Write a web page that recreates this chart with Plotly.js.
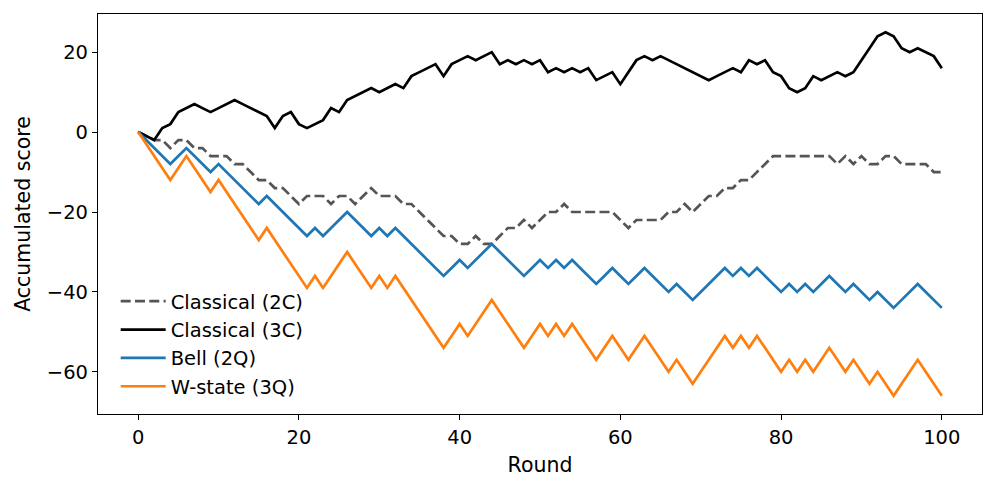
<!DOCTYPE html>
<html>
<head>
<meta charset="utf-8">
<script src="https://cdn.plot.ly/plotly-3.0.1.min.js"></script>
<style>
  html, body { margin: 0; padding: 0; background: #fff; }
  #chart { width: 997px; height: 491px; }
</style>
</head>
<body>
<div id="chart"></div>
<script>
// rounds 0..100
let rounds = [];
for (let i = 0; i <= 100; i++) rounds.push(i);

// accumulated score per round
let classical2C = [
  0, -1, -2, -2, -4, -2, -2, -4, -4, -6,
  -6, -6, -8, -8, -10, -12, -12, -14, -14, -16,
  -18, -16, -16, -16, -18, -16, -16, -18, -16, -14,
  -16, -16, -16, -18, -18, -20, -22, -24, -26, -26,
  -28, -28, -26, -28, -28, -26, -24, -24, -22, -24,
  -22, -20, -20, -18, -20, -20, -20, -20, -20, -20,
  -22, -24, -22, -22, -22, -22, -20, -20, -18, -20,
  -18, -16, -16, -14, -14, -12, -12, -10, -8, -6,
  -6, -6, -6, -6, -6, -6, -6, -8, -6, -8,
  -6, -8, -8, -6, -6, -8, -8, -8, -8, -10,
  -10
];
let classical3C = [
  0, -1, -2, 1, 2, 5, 6, 7, 6, 5,
  6, 7, 8, 7, 6, 5, 4, 1, 4, 5,
  2, 1, 2, 3, 6, 5, 8, 9, 10, 11,
  10, 11, 12, 11, 14, 15, 16, 17, 14, 17,
  18, 19, 18, 19, 20, 17, 18, 17, 18, 17,
  18, 15, 16, 15, 16, 15, 16, 13, 14, 15,
  12, 15, 18, 19, 18, 19, 18, 17, 16, 15,
  14, 13, 14, 15, 16, 15, 18, 17, 18, 15,
  14, 11, 10, 11, 14, 13, 14, 15, 14, 15,
  18, 21, 24, 25, 24, 21, 20, 21, 20, 19,
  16
];
let bell2Q = [
  0, -2, -4, -6, -8, -6, -4, -6, -8, -10,
  -8, -10, -12, -14, -16, -18, -16, -18, -20, -22,
  -24, -26, -24, -26, -24, -22, -20, -22, -24, -26,
  -24, -26, -24, -26, -28, -30, -32, -34, -36, -34,
  -32, -34, -32, -30, -28, -30, -32, -34, -36, -34,
  -32, -34, -32, -34, -32, -34, -36, -38, -36, -34,
  -36, -38, -36, -34, -36, -38, -40, -38, -40, -42,
  -40, -38, -36, -34, -36, -34, -36, -34, -36, -38,
  -40, -38, -40, -38, -40, -38, -36, -38, -40, -38,
  -40, -42, -40, -42, -44, -42, -40, -38, -40, -42,
  -44
];
let wState3Q = [
  0, -3, -6, -9, -12, -9, -6, -9, -12, -15,
  -12, -15, -18, -21, -24, -27, -24, -27, -30, -33,
  -36, -39, -36, -39, -36, -33, -30, -33, -36, -39,
  -36, -39, -36, -39, -42, -45, -48, -51, -54, -51,
  -48, -51, -48, -45, -42, -45, -48, -51, -54, -51,
  -48, -51, -48, -51, -48, -51, -54, -57, -54, -51,
  -54, -57, -54, -51, -54, -57, -60, -57, -60, -63,
  -60, -57, -54, -51, -54, -51, -54, -51, -54, -57,
  -60, -57, -60, -57, -60, -57, -54, -57, -60, -57,
  -60, -63, -60, -63, -66, -63, -60, -57, -60, -63,
  -66
];

let lw = 2.7;
let data = [
  { x: rounds, y: classical2C, name: "Classical (2C)", legendgroup: "a", mode: "lines", type: "scatter",
    line: { color: "#555555", width: lw, dash: "10px,4.3px" } },
  { x: rounds, y: classical3C, name: "Classical (3C)", legendgroup: "b", mode: "lines", type: "scatter",
    line: { color: "#000000", width: lw } },
  { x: rounds, y: bell2Q, name: "Bell (2Q)", legendgroup: "c", mode: "lines", type: "scatter",
    line: { color: "#1f77b4", width: lw } },
  { x: rounds, y: wState3Q, name: "W-state (3Q)", legendgroup: "d", mode: "lines", type: "scatter",
    line: { color: "#ff7f0e", width: lw } }
];

let axisCommon = {
  showgrid: false, zeroline: false, showline: true, mirror: true,
  linecolor: "#000", linewidth: 1.2,
  ticks: "outside", ticklen: 5, tickwidth: 1.2, tickcolor: "#000",
  tickfont: { size: 19.5, color: "#000" }
};

let layout = {
  width: 997, height: 491,
  margin: { l: 98, r: 15, t: 14, b: 77 },
  paper_bgcolor: "#fff", plot_bgcolor: "#fff",
  font: { family: "DejaVu Sans", color: "#000" },
  xaxis: Object.assign({}, axisCommon, {
    range: [-5, 105], tickvals: [0, 20, 40, 60, 80, 100],
    title: { text: "Round", font: { size: 20.5 }, standoff: 10 }
  }),
  yaxis: Object.assign({}, axisCommon, {
    range: [-70.55, 29.55], tickvals: [-60, -40, -20, 0, 20],
    title: { text: "Accumulated score", font: { size: 20.5 }, standoff: 10 }
  }),
  showlegend: true,
  legend: {
    x: 0.02, y: 0.02, xanchor: "left", yanchor: "bottom",
    bgcolor: "rgba(0,0,0,0)", borderwidth: 0, itemwidth: 45,
    font: { size: 19.5 }, tracegroupgap: 2, traceorder: "normal"
  }
};

Plotly.newPlot("chart", data, layout, { displayModeBar: false, responsive: false });
</script>
</body>
</html>
